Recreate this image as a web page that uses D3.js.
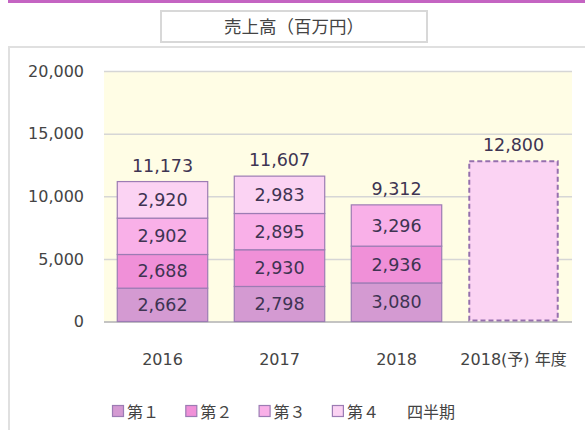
<!DOCTYPE html>
<html>
<head>
<meta charset="utf-8">
<script src="https://cdn.jsdelivr.net/npm/d3@7"></script>
<style>
  body { margin: 0; background: #fff; }
  svg { display: block; font-family: "DejaVu Sans", Verdana, "Noto Sans CJK JP", sans-serif; }
</style>
</head>
<body>
<div id="chart"></div>
<script>
// data
const years = ['2016', '2017', '2018', '2018(予)'];
const q1 = [2662, 2798, 3080, null];
const q2 = [2688, 2930, 2936, null];
const q3 = [2902, 2895, 3296, null];
const q4 = [2920, 2983, null, null];
const totals = [11173, 11607, 9312, 12800];
const forecast = [null, null, null, 12800];
const quarterNames = ['第１', '第２', '第３', '第４'];
const yTicks = [0, 5000, 10000, 15000, 20000];

const W = 585, H = 430;
const margin = { top: 71, right: 13, bottom: 108.5, left: 104 };
const colors = ['#d49ad2', '#f090d8', '#f9b0e8', '#fbd3f3'];
const fmt = d3.format(',');

const svg = d3.select('#chart').append('svg')
  .attr('width', W).attr('height', H);

// top accent bar
svg.append('rect').attr('x', 8).attr('y', 0).attr('width', W - 8).attr('height', 3)
  .attr('fill', '#c464c2');

// panel
svg.append('rect').attr('x', 9).attr('y', 47).attr('width', W + 20).attr('height', H)
  .attr('fill', '#fff').attr('stroke', '#e0e0e0').attr('stroke-width', 2);

// title box
svg.append('rect').attr('x', 161).attr('y', 11).attr('width', 266).attr('height', 31)
  .attr('fill', '#fff').attr('stroke', '#d8d8d8').attr('stroke-width', 2);
svg.append('text').attr('x', 294).attr('y', 33)
  .attr('text-anchor', 'middle').attr('fill', '#444')
  .style('font-family', '"Noto Sans CJK JP", sans-serif').style('font-size', '17.5px')
  .text('売上高（百万円）');

const x = d3.scaleBand().domain(years)
  .range([margin.left, W - margin.right]).paddingInner(0.227).paddingOuter(0.1135);
const y = d3.scaleLinear().domain([0, 20000]).range([H - margin.bottom, margin.top]);

// plot bg
svg.append('rect').attr('x', margin.left).attr('y', y(20000))
  .attr('width', W - margin.right - margin.left).attr('height', y(0) - y(20000))
  .attr('fill', '#fffde5');

// grid + y labels
const yAxis = svg.append('g').attr('transform', `translate(${margin.left},0)`)
  .call(d3.axisLeft(y).tickValues(yTicks).tickFormat(fmt)
    .tickSize(-(W - margin.right - margin.left)).tickPadding(20));
yAxis.select('.domain').remove();
yAxis.selectAll('line').attr('stroke', d => d === 0 ? '#b0b0b0' : '#d6d6d6').attr('stroke-width', 1.5);
yAxis.selectAll('text').attr('fill', '#444').style('font-size', '16px')
  .style('font-family', '"DejaVu Sans", sans-serif');

// x labels
const xAxis = svg.append('g').attr('transform', `translate(0,${y(0)})`)
  .call(d3.axisBottom(x).tickSize(0).tickPadding(32)
    .tickFormat(d => d === '2018(予)' ? '2018(予) 年度' : d));
xAxis.select('.domain').remove();
xAxis.selectAll('text').attr('fill', '#444').style('font-size', '16px')
  .style('font-family', '"DejaVu Sans", "Noto Sans CJK JP", sans-serif');

// stacked bars
const rows = years.map((yr, i) => ({ year: yr, q: [q1[i], q2[i], q3[i], q4[i]] }));
const stack = d3.stack().keys([0, 1, 2, 3]).value((d, k) => d.q[k] || 0);
const series = stack(rows);

series.forEach((s, k) => {
  const g = svg.append('g');
  s.forEach((seg, i) => {
    const v = rows[i].q[k];
    if (v == null) return;
    g.append('rect')
      .attr('x', x(rows[i].year)).attr('width', x.bandwidth())
      .attr('y', y(seg[1])).attr('height', y(seg[0]) - y(seg[1]))
      .attr('fill', colors[k]).attr('stroke', '#9c7cb4').attr('stroke-width', 1.2);
    g.append('text')
      .attr('x', x(rows[i].year) + x.bandwidth() / 2)
      .attr('y', (y(seg[0]) + y(seg[1])) / 2 + 6)
      .attr('text-anchor', 'middle').attr('fill', '#3e3452')
      .style('font-size', '17.5px').text(fmt(v));
  });
});

// forecast bar
forecast.forEach((v, i) => {
  if (v == null) return;
  svg.append('rect')
    .attr('x', x(years[i]) + 1).attr('width', x.bandwidth() - 2)
    .attr('y', y(v)).attr('height', y(0) - y(v) - 1)
    .attr('fill', colors[3]).attr('stroke', '#9670ae').attr('stroke-width', 2)
    .attr('stroke-dasharray', '5,3');
});

// totals
svg.append('g').selectAll('text').data(totals).join('text')
  .attr('x', (d, i) => x(years[i]) + x.bandwidth() / 2)
  .attr('y', d => y(d) - 10)
  .attr('text-anchor', 'middle').attr('fill', '#3e3452')
  .style('font-size', '17.5px').text(d => fmt(d));

// legend
const lg = svg.append('g').attr('transform', 'translate(112,405)');
quarterNames.forEach((n, k) => {
  const gx = k * 73.3;
  lg.append('rect').attr('x', gx + 0.5).attr('y', 0.5).attr('width', 11).attr('height', 11)
    .attr('fill', colors[k]).attr('stroke', '#9c7cb4').attr('stroke-width', 1.2);
  lg.append('text').attr('x', gx + 15).attr('y', 13)
    .attr('fill', '#444').style('font-size', '16px')
    .style('font-family', '"Noto Sans CJK JP", sans-serif').text(n);
});
lg.append('text').attr('x', 295).attr('y', 13)
  .attr('fill', '#444').style('font-size', '16px')
  .style('font-family', '"Noto Sans CJK JP", sans-serif').text('四半期');
</script>
</body>
</html>
